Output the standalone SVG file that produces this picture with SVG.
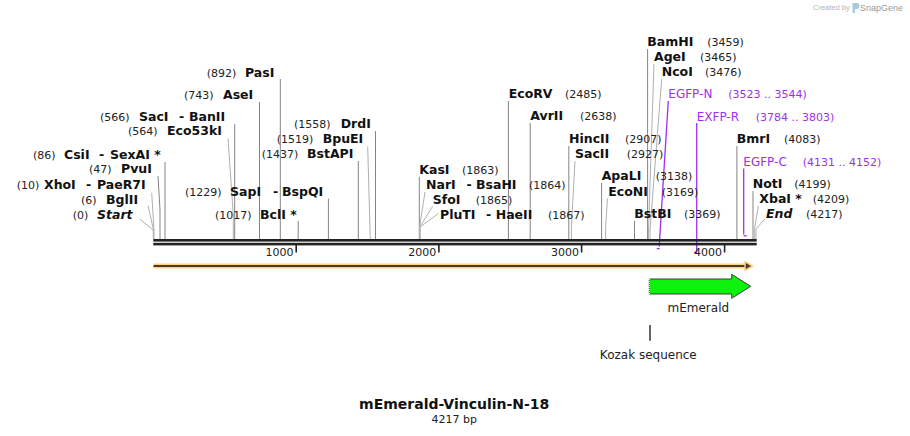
<svg xmlns="http://www.w3.org/2000/svg" width="910" height="436" viewBox="0 0 910 436">
<style>
text{font-family:"DejaVu Sans",Verdana,sans-serif;fill:#111}
.b{font-size:12.5px;font-weight:bold}
.bi{font-size:12.5px;font-weight:bold;font-style:italic}
.n{font-size:11px;fill:#222}
.pl{font-size:12px;fill:#a030f0}
.pn{font-size:11px;fill:#a030f0}
.ln{stroke:#858585;stroke-width:1;fill:none}
.ld{stroke:#b0b0b0;stroke-width:1;fill:none}
.pr{stroke:#a030f0;stroke-width:1.3;fill:none}
.tk{stroke:#222;stroke-width:1.6}
</style>
<rect width="910" height="436" fill="#fff"/>

<g id="credit">
<text x="813" y="10" style="font-family:'Liberation Sans',Arial,sans-serif;font-size:7.5px;fill:#b5b5b5">Created by</text>
<path d="M852.5 3 h4 a3 3 0 0 1 0 6 h-1.5 v4 h-2.5 z" fill="#a8c8e0"/>
<text x="860" y="11" style="font-family:'Liberation Sans',Arial,sans-serif;font-size:9px;fill:#9a9a9a">SnapGene</text>
</g>

<g id="connectors">
<!-- left cluster -->
<polyline class="ld" points="140,219.3 153.3,230 153.3,239"/>
<polyline class="ld" points="148,205.5 153.5,230 153.5,239"/>
<polyline class="ld" points="151.7,192.7 154,230 154,239"/>
<polyline class="ln" points="158,176 160,210 160,239"/>
<line class="ln" x1="165" y1="162" x2="165" y2="239"/>
<line class="ln" x1="234.7" y1="124" x2="234.7" y2="239"/>
<polyline class="ld" points="228,138.5 233.3,215 233.3,239"/>
<line class="ln" x1="259.5" y1="102" x2="259.5" y2="239"/>
<line class="ln" x1="280.3" y1="79" x2="280.3" y2="239"/>
<line class="ln" x1="298.2" y1="221" x2="298.2" y2="239"/>
<line class="ln" x1="328.4" y1="198.5" x2="328.4" y2="239"/>
<line class="ln" x1="358.3" y1="161" x2="358.3" y2="239"/>
<polyline class="ld" points="367.7,146.5 370.2,236 370.2,239"/>
<line class="ln" x1="375.5" y1="131" x2="375.5" y2="239"/>
<!-- 1863-1867 cluster -->
<line class="ln" x1="419.3" y1="177" x2="419.3" y2="239"/>
<polyline class="ld" points="425,192 419.6,227 419.6,239"/>
<polyline class="ld" points="432.5,206.5 419.8,227 419.8,239"/>
<polyline class="ld" points="438.3,213.5 420.1,227 420.1,239"/>
<!-- middle -->
<line class="ln" x1="508.4" y1="101" x2="508.4" y2="239"/>
<line class="ln" x1="530.2" y1="123" x2="530.2" y2="239"/>
<line class="ln" x1="568.8" y1="146" x2="568.8" y2="239"/>
<polyline class="ld" points="575,161 571.4,227 571.4,239"/>
<line class="ln" x1="601.6" y1="183" x2="601.6" y2="239"/>
<polyline class="ld" points="607.5,198.5 605.6,228 605.6,239"/>
<line class="ln" x1="634.5" y1="221" x2="634.5" y2="239"/>
<line class="ln" x1="647.6" y1="49" x2="647.6" y2="239"/>
<polyline class="ld" points="654,64 648.5,230 648.5,239"/>
<polyline class="ld" points="661.7,79 650,230 650,239"/>
<!-- primers -->
<polyline class="pr" points="668.3,101 659.2,246.5"/>
<line class="pr" x1="656.7" y1="248.6" x2="659.7" y2="248.6" stroke-width="1.6"/>
<line class="pr" x1="696.7" y1="123" x2="696.7" y2="252"/>
<line class="pr" x1="694" y1="252.4" x2="697" y2="252.4" stroke-width="1.6"/>
<line class="pr" x1="743.7" y1="168.5" x2="743.7" y2="234.6"/>
<line class="pr" x1="743.7" y1="235.8" x2="746.8" y2="235.8" stroke-width="1.6"/>
<!-- right -->
<line class="ln" x1="736.9" y1="146" x2="736.9" y2="239"/>
<line class="ln" x1="753" y1="191" x2="753" y2="239"/>
<polyline class="ld" points="758.3,206 754.7,228 754.7,239"/>
<polyline class="ld" points="765,218.8 756,229 756,239"/>
<!-- Kozak -->
<line x1="650" y1="325" x2="650" y2="340.7" stroke="#333" stroke-width="1.5"/>
</g>

<g id="backbone">
<rect x="153.3" y="239" width="603.4" height="2.6" fill="#222"/>
<rect x="153.3" y="242.8" width="603.4" height="2.6" fill="#222"/>
<line class="tk" x1="296.2" y1="245" x2="296.2" y2="252.5"/>
<line class="tk" x1="438.9" y1="245" x2="438.9" y2="252.5"/>
<line class="tk" x1="581.6" y1="245" x2="581.6" y2="252.5"/>
<line class="tk" x1="724.6" y1="245" x2="724.6" y2="252.5"/>
<text class="n" x="293.5" y="256" text-anchor="end">1000</text>
<text class="n" x="436.3" y="256" text-anchor="end">2000</text>
<text class="n" x="579" y="256" text-anchor="end">3000</text>
<text class="n" x="722" y="256" text-anchor="end">4000</text>
</g>

<g id="orange-feature">
<line x1="153.5" y1="266" x2="746" y2="266" stroke="#fdd085" stroke-width="5"/>
<line x1="153.5" y1="266" x2="746" y2="266" stroke="#4a3b2c" stroke-width="1.8"/>
<polygon points="745,261.5 752.5,266 745,270.5" fill="#4a3b2c" stroke="#fdd085" stroke-width="1.5" stroke-linejoin="round"/>
</g>

<g id="mEmerald">
<polygon points="649.3,279 731.7,279 731.7,274.3 750.7,286.3 731.7,298.3 731.7,294 649.3,294" fill="#0df20d" stroke="#3d3d3d" stroke-width="1"/>
<line x1="649.3" y1="279" x2="649.3" y2="294" stroke="#fff" stroke-width="1.2" stroke-dasharray="1,1"/>
<text x="698.3" y="312" text-anchor="middle" style="font-size:12px;fill:#222">mEmerald</text>
</g>

<g id="kozak">
<text x="648.3" y="359" text-anchor="middle" style="font-size:12px;fill:#222">Kozak sequence</text>
</g>

<g id="labels-left">
<g id="site-Start"><text class="n" x="72.7" y="219">(0)</text><text class="bi" x="97" y="219">Start</text></g>
<g id="site-BglII"><text class="n" x="81" y="204">(6)</text><text class="b" x="106" y="204">BglII</text></g>
<g id="site-XhoI"><text class="n" x="16.7" y="189">(10)</text><text class="b" x="44" y="189">XhoI</text><text class="b" x="86" y="189">-</text><text class="b" x="97" y="189">PaeR7I</text></g>
<g id="site-PvuI"><text class="n" x="89" y="173.3">(47)</text><text class="b" x="121" y="173.3">PvuI</text></g>
<g id="site-CsiI"><text class="n" x="33" y="159">(86)</text><text class="b" x="64" y="159">CsiI</text><text class="b" x="99" y="159">-</text><text class="b" x="110" y="159">SexAI *</text></g>
<g id="site-SacI"><text class="n" x="100" y="121">(566)</text><text class="b" x="139" y="121">SacI</text><text class="b" x="179" y="121">-</text><text class="b" x="189" y="121">BanII</text></g>
<g id="site-Eco53kI"><text class="n" x="128" y="135">(564)</text><text class="b" x="167" y="135">Eco53kI</text></g>
<g id="site-AseI"><text class="n" x="184" y="99">(743)</text><text class="b" x="223" y="99">AseI</text></g>
<g id="site-PasI"><text class="n" x="206.7" y="77">(892)</text><text class="b" x="245" y="77">PasI</text></g>
<g id="site-SapI"><text class="n" x="185" y="196">(1229)</text><text class="b" x="230" y="196">SapI</text><text class="b" x="273" y="196">-</text><text class="b" x="282" y="196">BspQI</text></g>
<g id="site-BclI"><text class="n" x="215" y="219">(1017)</text><text class="b" x="260" y="219">BclI *</text></g>
<g id="site-BstAPI"><text class="n" x="261.7" y="158.3">(1437)</text><text class="b" x="307" y="158.3">BstAPI</text></g>
<g id="site-BpuEI"><text class="n" x="276.7" y="143.3">(1519)</text><text class="b" x="322.7" y="143.3">BpuEI</text></g>
<g id="site-DrdI"><text class="n" x="294" y="128.3">(1558)</text><text class="b" x="340.7" y="128.3">DrdI</text></g>
</g>

<g id="labels-right">
<g id="site-KasI"><text class="b" x="419.3" y="174">KasI</text><text class="n" x="462" y="174">(1863)</text></g>
<g id="site-NarI"><text class="b" x="426" y="189">NarI</text><text class="b" x="466.5" y="189">-</text><text class="b" x="476" y="189">BsaHI</text><text class="n" x="529" y="189">(1864)</text></g>
<g id="site-SfoI"><text class="b" x="432.7" y="204">SfoI</text><text class="n" x="475.7" y="204">(1865)</text></g>
<g id="site-PluTI"><text class="b" x="440" y="219">PluTI</text><text class="b" x="486" y="219">-</text><text class="b" x="495.7" y="219">HaeII</text><text class="n" x="548" y="219">(1867)</text></g>
<g id="site-EcoRV"><text class="b" x="508.7" y="98.3">EcoRV</text><text class="n" x="565" y="98.3">(2485)</text></g>
<g id="site-AvrII"><text class="b" x="530.3" y="120">AvrII</text><text class="n" x="580" y="120">(2638)</text></g>
<g id="site-HincII"><text class="b" x="569" y="143.3">HincII</text><text class="n" x="625" y="143.3">(2907)</text></g>
<g id="site-SacII"><text class="b" x="575" y="158.3">SacII</text><text class="n" x="626.7" y="158.3">(2927)</text></g>
<g id="site-ApaLI"><text class="b" x="601.7" y="180">ApaLI</text><text class="n" x="655.7" y="180">(3138)</text></g>
<g id="site-EcoNI"><text class="b" x="608.3" y="195.7">EcoNI</text><text class="n" x="661.7" y="195.7">(3169)</text></g>
<g id="site-BstBI"><text class="b" x="634.3" y="218.3">BstBI</text><text class="n" x="684" y="218.3">(3369)</text></g>
<g id="site-BamHI"><text class="b" x="647.3" y="46">BamHI</text><text class="n" x="707.3" y="46">(3459)</text></g>
<g id="site-AgeI"><text class="b" x="654" y="61">AgeI</text><text class="n" x="700" y="61">(3465)</text></g>
<g id="site-NcoI"><text class="b" x="661.7" y="76">NcoI</text><text class="n" x="705" y="76">(3476)</text></g>
<g id="primer-EGFP-N"><text class="pl" x="668.3" y="98.3">EGFP-N</text><text class="pn" x="728.3" y="98.3">(3523 .. 3544)</text></g>
<g id="primer-EXFP-R"><text class="pl" x="696.7" y="120.7">EXFP-R</text><text class="pn" x="755.7" y="120.7">(3784 .. 3803)</text></g>
<g id="site-BmrI"><text class="b" x="736.7" y="143.3">BmrI</text><text class="n" x="784" y="143.3">(4083)</text></g>
<g id="primer-EGFP-C"><text class="pl" x="743.3" y="166">EGFP-C</text><text class="pn" x="802.7" y="166">(4131 .. 4152)</text></g>
<g id="site-NotI"><text class="b" x="752.7" y="188.3">NotI</text><text class="n" x="794.3" y="188.3">(4199)</text></g>
<g id="site-XbaI"><text class="b" x="759.3" y="203.3">XbaI *</text><text class="n" x="812.7" y="203.3">(4209)</text></g>
<g id="site-End"><text class="bi" x="766" y="218.3">End</text><text class="n" x="806" y="218.3">(4217)</text></g>
</g>

<g id="title">
<text x="454.2" y="409.3" text-anchor="middle" style="font-size:14px;font-weight:bold">mEmerald-Vinculin-N-18</text>
<text x="454.2" y="423.3" text-anchor="middle" style="font-size:11px;fill:#222">4217 bp</text>
</g>
</svg>
